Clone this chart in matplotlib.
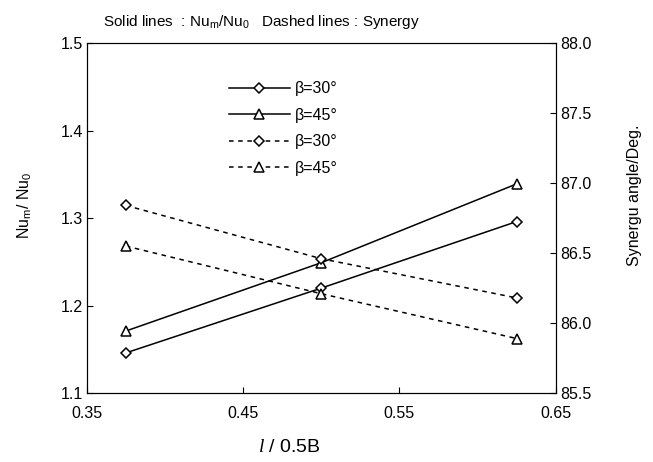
import matplotlib
matplotlib.use('Agg')
import matplotlib.pyplot as plt

plt.rcParams['font.family'] = ['Liberation Sans', 'DejaVu Sans']
plt.rcParams['mathtext.fontset'] = 'custom'
plt.rcParams['mathtext.rm'] = 'Liberation Sans'
plt.rcParams['mathtext.it'] = 'Liberation Serif:italic'

# l / 0.5B
x = [0.375, 0.5, 0.625]

# Nu_m/Nu_0 (lineas continuas)
nu_30 = [1.146, 1.220, 1.296]
nu_45 = [1.171, 1.249, 1.339]

# angulo de sinergia (lineas de trazos)
syn_30 = [86.84, 86.46, 86.18]
syn_45 = [86.55, 86.21, 85.89]

labels = ['β=30°', 'β=45°', 'β=30°', 'β=45°']

fig = plt.figure(figsize=(6.53, 4.62), dpi=100)
ax = fig.add_axes([0.133, 0.149, 0.718, 0.758])
ax2 = ax.twinx()

mk = dict(color='black', markerfacecolor='white', markeredgecolor='black',
          markeredgewidth=1.1, linewidth=1.1)
h1, = ax.plot(x, nu_30, marker='D', markersize=5.5, label=labels[0], **mk)
h2, = ax.plot(x, nu_45, marker='^', markersize=7, label=labels[1], **mk)
h3, = ax2.plot(x, syn_30, marker='D', markersize=5.5, linestyle=(0, (3, 3)),
               label=labels[2], **mk)
h4, = ax2.plot(x, syn_45, marker='^', markersize=7, linestyle=(0, (3, 3)),
               label=labels[3], **mk)

ax.set_xlim(0.35, 0.65)
ax.set_ylim(1.1, 1.5)
ax2.set_ylim(85.5, 88.0)
ax.set_xticks([0.35, 0.45, 0.55, 0.65])
ax.set_yticks([1.1, 1.2, 1.3, 1.4, 1.5])
ax2.set_yticks([85.5, 86.0, 86.5, 87.0, 87.5, 88.0])
ax2.set_yticklabels(['85.5', '86.0', '86.5', '87.0', '87.5', '88.0'])

ax.tick_params(axis='both', direction='in', length=4, labelsize=11.5, pad=9)
ax.tick_params(axis='y', pad=3)
ax2.tick_params(axis='y', direction='in', length=4, labelsize=11.5, pad=3)

ax.set_ylabel(r'Nu$_{\rm m}$/ Nu$_{\rm 0}$', fontsize=11.5)
ax.yaxis.set_label_coords(-0.112, 0.537)
ax2.set_ylabel('Synergu angle/Deg.', fontsize=11.5)
ax2.yaxis.set_label_coords(1.152, 0.566)

fig.text(0.443, 0.032, r'$l$ / 0.5B', ha='center', va='center', fontsize=14)
fig.text(0.40, 0.952, r'Solid lines  : Nu$_{\rm m}$/Nu$_{\rm 0}$   Dashed lines : Synergy',
         ha='center', va='center', fontsize=11)

ax2.legend(handles=[h1, h2, h3, h4], loc='upper left',
           bbox_to_anchor=(0.303, 0.89), frameon=False, fontsize=11.5,
           borderpad=0, borderaxespad=0,
           handlelength=3.8, labelspacing=0.72, handletextpad=0.35)

fig.savefig('out.png', dpi=100)
